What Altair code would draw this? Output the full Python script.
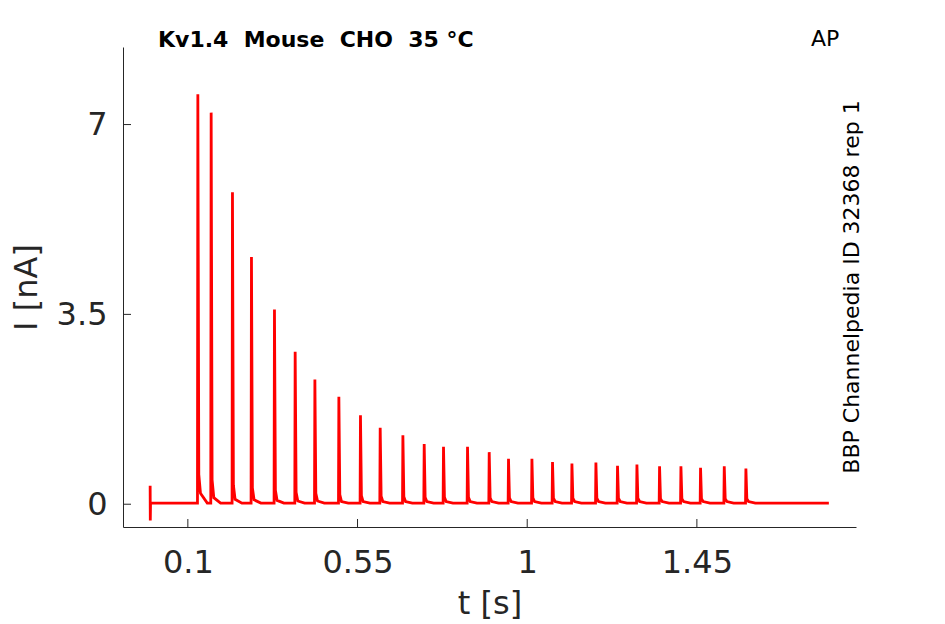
import altair as alt
import pandas as pd

# ---- values ----
spike_times = [0.1265, 0.1618, 0.2183, 0.2687, 0.3297, 0.3846, 0.4369, 0.5005, 0.5578,
               0.6101, 0.6703, 0.7268, 0.7780, 0.8417, 0.8992, 0.9504, 1.0125, 1.0671,
               1.1186, 1.1822, 1.2395, 1.2910, 1.3510, 1.4077, 1.4597, 1.5226, 1.5800]
spike_peaks = [7.56, 7.22, 5.75, 4.56, 3.59, 2.81, 2.30, 1.98, 1.64,
               1.41, 1.27, 1.11, 1.06, 1.06, 0.96, 0.84, 0.84, 0.78,
               0.75, 0.77, 0.71, 0.73, 0.70, 0.70, 0.67, 0.70, 0.66]
spike_knee = [0.55, 0.45, 0.35, 0.30, 0.26, 0.22, 0.20, 0.18, 0.16,
              0.15, 0.14, 0.13, 0.13, 0.13, 0.12, 0.12, 0.12, 0.11,
              0.11, 0.11, 0.11, 0.11, 0.10, 0.10, 0.10, 0.10, 0.10]
spike_tail = [0.20, 0.12, 0.09, 0.08, 0.07, 0.06, 0.06, 0.05, 0.05,
              0.05, 0.05, 0.05, 0.05, 0.05, 0.05, 0.05, 0.05, 0.05,
              0.05, 0.05, 0.05, 0.05, 0.05, 0.05, 0.05, 0.05, 0.05]
baseline = 0.02
artifact_time = 0.0
artifact_high = 0.34
artifact_low = -0.30
trace_end = 1.80

x_ticks = [0.1, 0.55, 1, 1.45]
y_ticks = [0, 3.5, 7]
x_domain = [-0.072, 1.872]
y_domain = [-0.42, 8.43]

title_text = "Kv1.4\u00a0\u00a0Mouse\u00a0\u00a0CHO\u00a0\u00a035 °C"
corner_text = "AP"
side_text = "BBP Channelpedia ID 32368 rep 1"

# ---- build the trace table ----
ts, vs = [], []
ts += [artifact_time, artifact_time + 0.0004, artifact_time + 0.001]
vs += [artifact_high, artifact_low, baseline]
for t, p, k, tl in zip(spike_times, spike_peaks, spike_knee, spike_tail):
    ts += [t - 0.001, t, t + 0.0025, t + 0.007, t + 0.025]
    vs += [baseline, p, k, tl, baseline]
ts.append(trace_end)
vs.append(baseline)
trace = pd.DataFrame({"t": ts, "i": vs, "order": range(len(ts))})

W, H = 733, 480
INK = "#262626"
FONT = "DejaVu Sans"
LABEL_EXPR = "toString(datum.value)"

xs = alt.Scale(domain=x_domain, nice=False, zero=False)
ys = alt.Scale(domain=y_domain, nice=False, zero=False)

line = alt.Chart(trace).mark_line(color="#ff0000", strokeWidth=2.8, clip=True).encode(
    x=alt.X("t:Q", scale=xs, title="t [s]",
            axis=alt.Axis(values=x_ticks, labelExpr=LABEL_EXPR, ticks=False, grid=False,
                          domainColor=INK, domainWidth=1, labelFont=FONT, labelFontSize=32,
                          labelColor=INK, labelPadding=20, titleFont=FONT, titleFontSize=32,
                          titleFontWeight="normal", titleColor=INK, titleBaseline="alphabetic",
                          titleY=86, labelFlush=False)),
    y=alt.Y("i:Q", scale=ys, title="I [nA]",
            axis=alt.Axis(values=y_ticks, labelExpr=LABEL_EXPR, ticks=False, grid=False,
                          domainColor=INK, domainWidth=1, labelFont=FONT, labelFontSize=32,
                          labelColor=INK, labelPadding=16, titleFont=FONT, titleFontSize=32,
                          titleFontWeight="normal", titleColor=INK, titleBaseline="alphabetic",
                          titleX=-87, labelFlush=False)),
    order="order:Q",
)

xt = alt.Chart(pd.DataFrame({"v": x_ticks})).mark_rule(color=INK, strokeWidth=1).encode(
    x=alt.X("v:Q", scale=xs), y=alt.value(H), y2=alt.value(H - 8))
yt = alt.Chart(pd.DataFrame({"v": y_ticks})).mark_rule(color=INK, strokeWidth=1).encode(
    y=alt.Y("v:Q", scale=ys), x=alt.value(0), x2=alt.value(8))

heading = alt.Chart(pd.DataFrame({"s": [title_text]})).mark_text(
    font=FONT, fontSize=22, fontWeight="bold", color="black", align="left", baseline="alphabetic"
).encode(text="s:N", x=alt.value(35), y=alt.value(0))

corner = alt.Chart(pd.DataFrame({"s": [corner_text]})).mark_text(
    font=FONT, fontSize=22, color="black", align="left", baseline="alphabetic"
).encode(text="s:N", x=alt.value(688), y=alt.value(-1))

side = alt.Chart(pd.DataFrame({"s": [side_text]})).mark_text(
    font=FONT, fontSize=22, color="black", align="center", baseline="middle", angle=270
).encode(text="s:N", x=alt.value(729), y=alt.value(240))

chart = alt.layer(line, xt, yt, heading, corner, side).properties(
    width=W, height=H,
    padding={"left": 115, "top": 39, "right": 70, "bottom": 94},
    autosize="none",
).configure_view(stroke=None)

chart.save("out.html", embed_options={"renderer": "svg", "actions": False})
